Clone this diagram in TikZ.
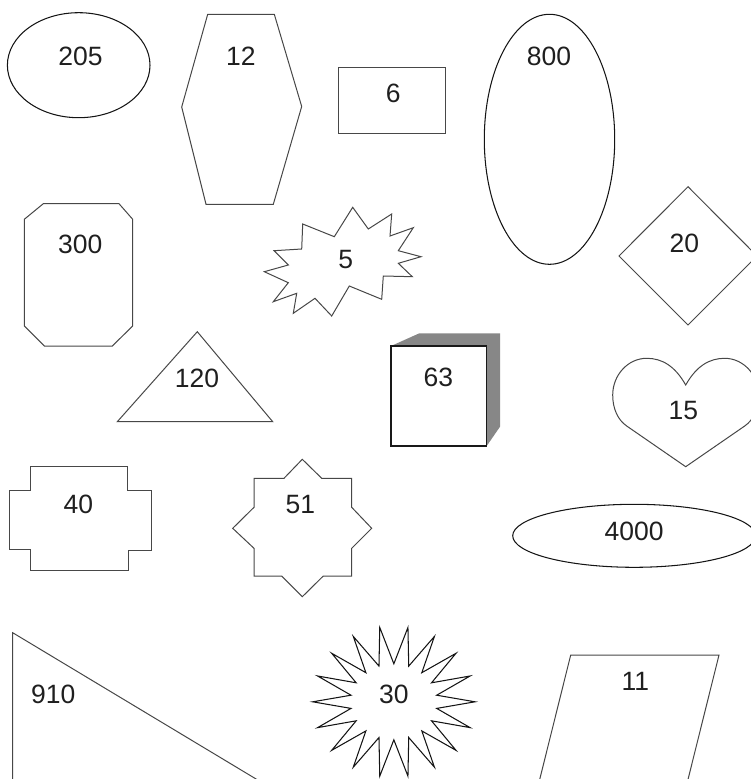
\documentclass[tikz,border=0pt]{standalone}
\usepackage{fontspec}
\setmainfont{Liberation Sans}
\begin{document}
\begin{tikzpicture}[x=1pt,y=-1pt,
  shp/.style={draw=black!72,line width=1pt,line join=miter},
  ell/.style={draw=black!92,line width=1.05pt},
  lbl/.style={inner sep=0pt,text=black!88,font=\fontsize{26.5}{30}\selectfont}]
\useasboundingbox (0,0) rectangle (751,779);
\clip (0,0) rectangle (751,779);
% ellipse 205
\draw[ell] (78.7,65.2) ellipse [x radius=71.3,y radius=52.5];
\node[lbl] (t205) at (80.5,56.7) {205};
% hexagon 12
\draw[shp] (207.7,14.3) -- (274.3,14.3) -- (301.7,106.5) -- (273.3,204.3) -- (206,204.3) -- (181.7,107) -- cycle;
\node[lbl] (t12) at (240.8,56.7) {12};
% rectangle 6
\draw[shp] (338.7,67.7) rectangle (445.3,133.7);
\node[lbl] (t6) at (393.3,93.8) {6};
% ellipse 800
\draw[ell] (549.5,139.3) ellipse [x radius=65.2,y radius=125];
\node[lbl] (t800) at (549,56.2) {800};
% diamond 20
\draw[shp] (688,186.7) -- (757,256) -- (688,325) -- (619,256) -- cycle;
\node[lbl] (t20) at (684.3,243.8) {20};
% octagon 300
\draw[shp] (43.3,203.7) -- (119,203.7) -- (132.7,219.3) -- (132.7,326) -- (112.3,346) -- (44.3,346) -- (24.3,326) -- (24.3,219.3) -- cycle;
\node[lbl] (t300) at (80.3,244.2) {300};
% explosion 5
\draw[shp] (264.3,271.7) -- (288.3,265) -- (274,250.7) -- (301.7,249) -- (302.7,224) -- (334.3,236.7) -- (352.7,207.3) -- (368.3,229) -- (391.7,214) -- (390,236) -- (413.3,227.7) -- (398.3,250.7) -- (421,256.7) -- (398.3,263.3) -- (412.3,276.7) -- (383.3,276) -- (381.7,299.3) -- (349.3,286) -- (331.7,316) -- (315,298.3) -- (293.3,313.3) -- (296.7,293.3) -- (273.3,301.7) -- (288.3,282.7) -- cycle;
\node[lbl] (t5) at (345.7,259.5) {5};
% triangle 120
\draw[shp] (197.3,331.7) -- (272.7,421.7) -- (117.3,421.7) -- cycle;
\node[lbl] (t120) at (197,378.2) {120};
% cube 63
\fill[black!47] (391,346) -- (419.3,333.3) -- (500,333.3) -- (500,426.7) -- (486.7,446) -- (486.7,346) -- cycle;
\draw[draw=black!90,line width=1.05pt,fill=white] (391,346) rectangle (486.7,446);
\node[lbl] (t63) at (438.3,377.5) {63};
% heart 15
\draw[shp] (685.7,385) .. controls (675,366) and (662,358.3) .. (646.7,358.3)
  .. controls (628,358.3) and (612.7,375) .. (612.7,395)
  .. controls (612.7,409) and (618,420) .. (626.7,426)
  -- (685.7,466.7) -- (744.7,426)
  .. controls (753.4,420) and (758.7,409) .. (758.7,395)
  .. controls (758.7,375) and (743.4,358.3) .. (724.7,358.3)
  .. controls (709.4,358.3) and (696.4,366) .. (685.7,385) -- cycle;
\node[lbl] (t15) at (683.3,410.2) {15};
% ellipse 4000
\draw[ell] (634.2,535.8) ellipse [x radius=121.5,y radius=31.5];
\node[lbl] (t4000) at (634.2,531.2) {4000};
% cross 40
\draw[shp] (30,466) -- (127.3,466) -- (127.3,490.7) -- (151.7,490.7) -- (151.7,550) -- (128.3,550) -- (128.3,570) -- (30.7,570) -- (30.7,549.3) -- (9.3,549.3) -- (9.3,490.7) -- (30,490.7) -- cycle;
\node[lbl] (t40) at (78.3,504.8) {40};
% eight-point star 51
\draw[shp] (302.3,459.3) -- (321.7,478.3) -- (351.7,478.3) -- (351.7,507.3) -- (371.7,528.3) -- (351.7,548.3) -- (351.7,576) -- (323.3,576) -- (302.3,596.7) -- (281.7,576) -- (254,576) -- (254,548.3) -- (232.7,528.3) -- (254,507.3) -- (254,478.3) -- (284,478.3) -- cycle;
\node[lbl] (t51) at (300.3,504.8) {51};
% right triangle 910
\draw[shp] (12.7,632.7) -- (324.3,820) -- (12.7,820) -- cycle;
\node[lbl] (t910) at (53.2,694.7) {910};
% sun star 30
\draw[ell] plot[samples at={0,10,...,360}] ({393.85+(mod(\x,20)==0 ? 81.15 : 43.5)*cos(\x)},{701.8-(mod(\x,20)==0 ? 75.5 : 38)*sin(\x)}) -- cycle;
\node[lbl] (t30) at (393.8,694.8) {30};
% parallelogram 11
\draw[shp] (570.7,655) -- (719,655) -- (677.9,820) -- (529.6,820) -- cycle;
\node[lbl] (t11) at (635.3,681.8) {11};
\end{tikzpicture}
\end{document}
